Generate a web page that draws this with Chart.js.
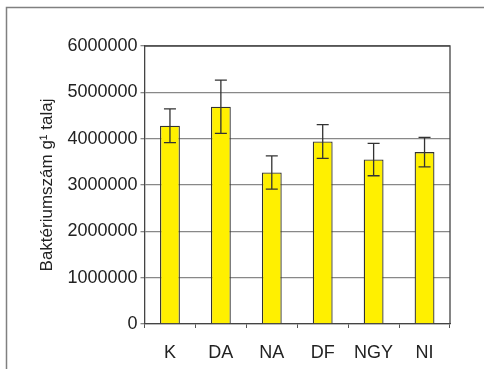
<!DOCTYPE html>
<html>
<head>
<meta charset="utf-8">
<script src="https://cdn.jsdelivr.net/npm/chart.js@4"></script>
<style>
  html, body { margin: 0; padding: 0; background: #fff; }
  #wrap { width: 484px; height: 369px; }
</style>
</head>
<body>
<div id="wrap"><canvas id="chart" width="484" height="369"></canvas></div>
<script>
const categories = ['K', 'DA', 'NA', 'DF', 'NGY', 'NI']
const counts = [4280000, 4690000, 3270000, 3940000, 3550000, 3710000]
const errors = [365000, 575000, 360000, 365000, 350000, 320000]
const yTicks = [0, 1000000, 2000000, 3000000, 4000000, 5000000, 6000000]

// thin grey frame around the whole figure
const framePlugin = {
  id: 'frame',
  beforeDraw(chart) {
    const ctx = chart.ctx
    ctx.save()
    ctx.strokeStyle = '#808080'
    ctx.lineWidth = 1.5
    ctx.beginPath()
    ctx.moveTo(6.5, chart.height)
    ctx.lineTo(6.5, 7.5)
    ctx.lineTo(chart.width, 7.5)
    ctx.stroke()
    ctx.restore()
  }
}

// box around the plot area (top + right edges)
const plotBorder = {
  id: 'plotBorder',
  afterDraw(chart) {
    const {ctx, chartArea: a} = chart
    ctx.save()
    ctx.strokeStyle = '#444'
    ctx.lineWidth = 1.3
    ctx.beginPath()
    ctx.moveTo(a.left, a.top)
    ctx.lineTo(a.right, a.top)
    ctx.lineTo(a.right, a.bottom)
    ctx.stroke()
    ctx.restore()
  }
}

// standard error whiskers on each bar
const errorBars = {
  id: 'errorBars',
  afterDatasetsDraw(chart) {
    const ctx = chart.ctx
    const y = chart.scales.y
    const meta = chart.getDatasetMeta(0)
    ctx.save()
    ctx.strokeStyle = '#333'
    ctx.lineWidth = 1.3
    meta.data.forEach((bar, i) => {
      const hi = y.getPixelForValue(counts[i] + errors[i])
      const lo = y.getPixelForValue(counts[i] - errors[i])
      const x = bar.x
      ctx.beginPath()
      ctx.moveTo(x, hi); ctx.lineTo(x, lo)
      ctx.moveTo(x - 6, hi); ctx.lineTo(x + 6, hi)
      ctx.moveTo(x - 6, lo); ctx.lineTo(x + 6, lo)
      ctx.stroke()
    })
    ctx.restore()
  }
}

const tickFont = { family: 'Liberation Sans, Arial, sans-serif', size: 18 }

new Chart(document.getElementById('chart').getContext('2d'), {
  type: 'bar',
  data: {
    labels: categories,
    datasets: [{
      data: counts,
      backgroundColor: '#fff000',
      borderColor: '#333',
      borderWidth: 1.3,
      barPercentage: 0.39,
      categoryPercentage: 1
    }]
  },
  options: {
    responsive: false,
    animation: false,
    layout: { padding: { left: 0, top: 46, right: 34, bottom: 0 } },
    plugins: { legend: { display: false }, tooltip: { enabled: false } },
    scales: {
      x: {
        grid: { drawOnChartArea: false, drawTicks: true, tickLength: 4, color: '#555' },
        border: { color: '#444', width: 1.3 },
        ticks: { color: '#222', font: tickFont, padding: 14 },
        afterFit(scale) { scale.height = 45 }
      },
      y: {
        min: 0,
        max: 6000000,
        afterBuildTicks(scale) { scale.ticks = yTicks.map(v => ({ value: v })) },
        grid: { color: '#888', lineWidth: 1.3, tickLength: 4 },
        border: { color: '#444', width: 1.3 },
        ticks: { color: '#222', font: tickFont, padding: 3, callback: v => String(v) },
        title: {
          display: true,
          text: 'Baktériumszám g¹ talaj',
          color: '#222',
          font: { family: 'Liberation Sans, Arial, sans-serif', size: 17 },
          padding: { top: 37, bottom: 0 }
        },
        afterFit(scale) { scale.width = 144.5 }
      }
    }
  },
  plugins: [framePlugin, errorBars, plotBorder]
})
</script>
</body>
</html>
